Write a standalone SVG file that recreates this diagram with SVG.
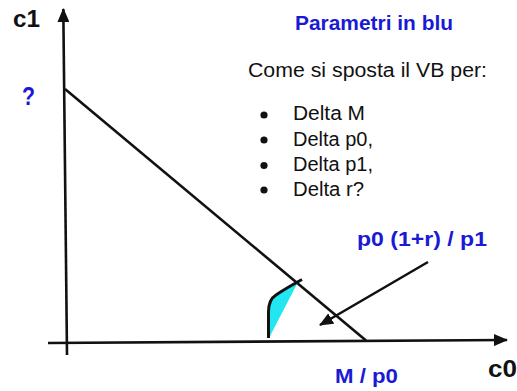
<svg xmlns="http://www.w3.org/2000/svg" width="517" height="391" viewBox="0 0 517 391">
<style>
.t{font-family:"Liberation Sans",Arial,sans-serif;fill:#111}
.b{font-weight:bold}
.blue{fill:#1a1ad4}
.ax{stroke:#111;stroke-width:2.6;fill:none;stroke-linecap:butt}
</style>
<defs>
<marker id="ah" viewBox="0 0 14 12" refX="13" refY="6" markerWidth="14" markerHeight="12" markerUnits="userSpaceOnUse" orient="auto">
<path d="M0,0 L14,6 L0,12 Z" fill="#111"/>
</marker>
</defs>
<rect width="517" height="391" fill="#fff"/>
<g id="connectors">
<line class="ax" x1="67" y1="355" x2="63.3" y2="9" marker-end="url(#ah)"/>
<line class="ax" x1="48" y1="343" x2="507" y2="340" marker-end="url(#ah)"/>
<line class="ax" x1="65" y1="89" x2="366" y2="340.5"/>
<line class="ax" x1="428" y1="262" x2="320" y2="325" stroke-width="2.2" marker-end="url(#ah)"/>
</g>
<g id="indifference">
<path d="M269,338 L268.5,312 C268.5,303 271,298 276,295 C283,290 291,286 298,282 Z" fill="#22e6f0"/>
<path d="M268.5,338 L268.5,312 C268.5,303 271,298 276,295 C283,290 292,285 302,279.5" fill="none" stroke="#111" stroke-width="3"/>
</g>
<g id="labels">
<text class="t b" x="13" y="27" font-size="24" textLength="27" lengthAdjust="spacingAndGlyphs">c1</text>
<text class="t b blue" x="22" y="105" font-size="26" textLength="13" lengthAdjust="spacingAndGlyphs">?</text>
<text class="t b" x="488" y="377" font-size="24" textLength="29" lengthAdjust="spacingAndGlyphs">c0</text>
<text class="t b blue" x="335" y="383" font-size="19.5" textLength="63" lengthAdjust="spacingAndGlyphs">M / p0</text>
<text class="t b blue" x="357" y="246" font-size="19.5" textLength="130" lengthAdjust="spacingAndGlyphs">p0 (1+r) / p1</text>
</g>
<g id="notes">
<text class="t b blue" x="295" y="30" font-size="19.5" textLength="158" lengthAdjust="spacingAndGlyphs">Parametri in blu</text>
<text class="t" x="248" y="77" font-size="20" textLength="239" lengthAdjust="spacingAndGlyphs">Come si sposta il VB per:</text>
<circle cx="264" cy="115" r="3.6" fill="#111"/>
<circle cx="264" cy="140" r="3.6" fill="#111"/>
<circle cx="264" cy="165.5" r="3.6" fill="#111"/>
<circle cx="264" cy="190" r="3.6" fill="#111"/>
<text class="t" x="293" y="120" font-size="19.5" textLength="72" lengthAdjust="spacingAndGlyphs">Delta M</text>
<text class="t" x="293" y="145.5" font-size="19.5" textLength="80" lengthAdjust="spacingAndGlyphs">Delta p0,</text>
<text class="t" x="293" y="171" font-size="19.5" textLength="80" lengthAdjust="spacingAndGlyphs">Delta p1,</text>
<text class="t" x="293" y="195.5" font-size="19.5" textLength="71" lengthAdjust="spacingAndGlyphs">Delta r?</text>
</g>
</svg>
